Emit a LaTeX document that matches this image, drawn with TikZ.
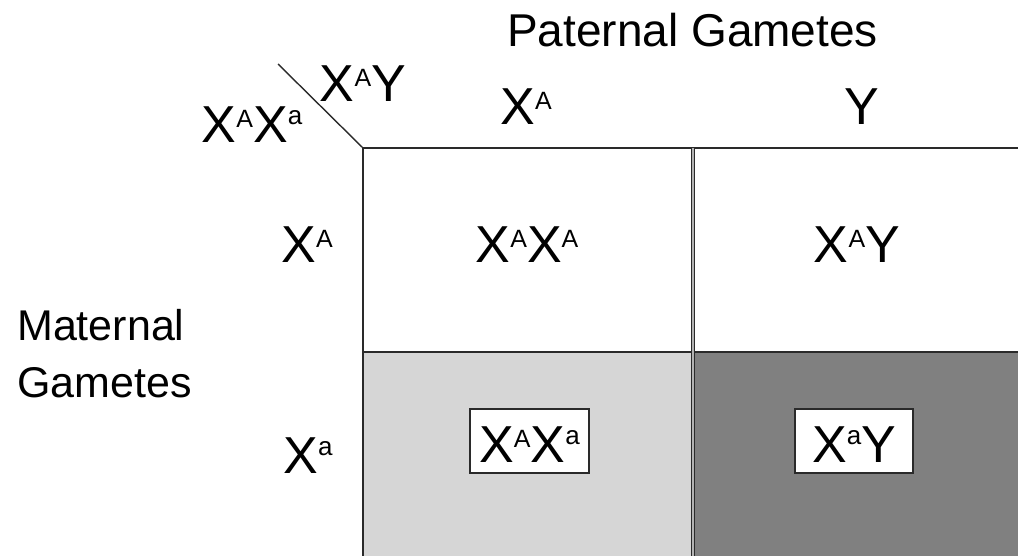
\documentclass[tikz,border=0pt]{standalone}
\usepackage{fontspec}
\setmainfont{Liberation Sans}
\newcommand\supA{\raisebox{15pt}{\fontsize{25}{25}\selectfont A}}
\newcommand\supa{\raisebox{18pt}{\fontsize{26}{26}\selectfont a}}
\newcommand\bigfont{\fontsize{52}{60}\selectfont}
\definecolor{lgray}{HTML}{D6D6D6}
\definecolor{dgray}{HTML}{808080}
\definecolor{linec}{HTML}{2A2A2A}
\begin{document}
\begin{tikzpicture}[x=1pt,y=-1pt,
  gline/.style={draw=linec, line width=2.2pt},
  dline/.style={draw=linec, line width=1.2pt, double=gray!60, double distance=1.4pt},
  lbl/.style={anchor=base, inner sep=0pt, font=\bigfont},
  title/.style={anchor=base west, inner sep=0pt, font=\fontsize{43}{50}\selectfont},
  cellbox/.style={draw=linec, line width=1.4pt, fill=white, inner sep=0pt}
]
\useasboundingbox (0,0) rectangle (1018,556);
% cell fills
\fill[lgray] (363,352) rectangle (693,556);
\fill[dgray] (693,352) rectangle (1018,556);
% grid
\coordinate (tl) at (363,148);
\coordinate (tr) at (1018,148);
\coordinate (bl) at (363,556);
\coordinate (tm) at (693,148);
\coordinate (bm) at (693,556);
\coordinate (ml) at (363,352);
\coordinate (mr) at (1018,352);
\coordinate (diag) at (278,64);
\draw[gline] (tr) -- (tl) -- (bl);
\draw[gline] (ml) -- (mr);
\draw[dline] (tm) -- (bm);
\draw[line width=1.4pt, draw=linec] (diag) -- (tl);
% titles
\node[title, font=\fontsize{46}{52}\selectfont] (pat) at (507,47) {Paternal Gametes};
\node[title] (mat) at (17,340) {Maternal};
\node[title] (gam) at (17,397) {Gametes};
% corner labels
\node[lbl] (father) at (363,102) {X\supA Y};
\node[lbl] (mother) at (252,143) {X\supA X\supa};
% headers
\node[lbl] (hxa) at (526,125) {X\supA};
\node[lbl] (hy) at (862,125) {Y};
\node[lbl] (rxa) at (307,263) {X\supA};
\node[lbl] (rxb) at (308,473) {X\supa};
% cells
\node[lbl] (c11) at (527,263) {X\supA X\supA};
\node[lbl] (c12) at (857,263) {X\supA Y};
\node[cellbox, minimum width=119pt, minimum height=64pt] (b21) at (529.5,441) {};
\node[lbl] (c21) at (b21.center |- 0,462) {X\supA X\supa};
\node[cellbox, minimum width=118pt, minimum height=64pt] (b22) at (854,441) {};
\node[lbl] (c22) at (b22.center |- 0,462) {X\supa Y};
\end{tikzpicture}
\end{document}
